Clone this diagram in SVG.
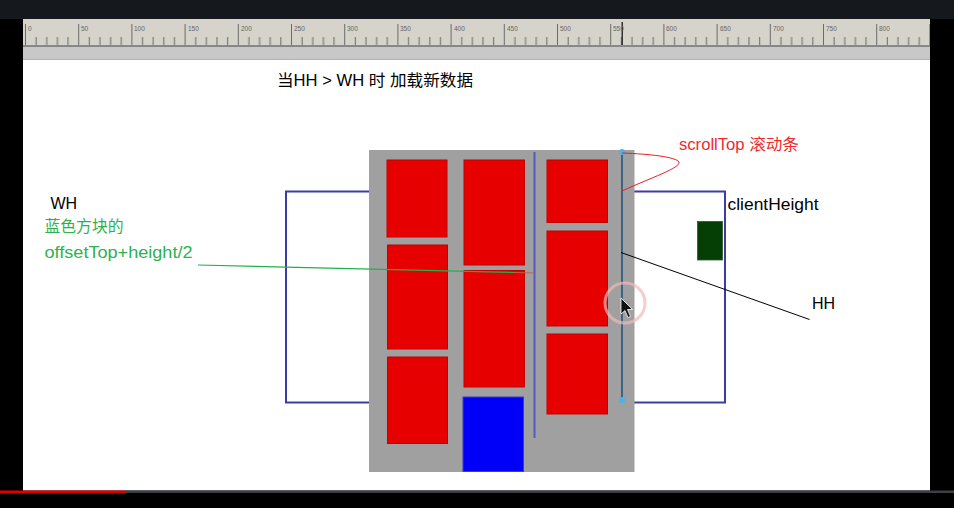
<svg xmlns="http://www.w3.org/2000/svg" width="954" height="508" viewBox="0 0 954 508">
<defs>
<style>
.t{font-family:"Liberation Sans","Noto Sans CJK SC",sans-serif;font-size:16px}
.blk{fill:#e60000;stroke:#c40000;stroke-width:1}
.rl{font-family:"Liberation Sans",sans-serif;font-size:6.5px;fill:#666}
</style>
<pattern id="rul" x="25" y="0" width="53.2" height="508" patternUnits="userSpaceOnUse">
<rect x="0" y="24" width="1" height="21" fill="#6a6a6a"/>
<rect x="10.64" y="37" width="1" height="8" fill="#6a6a6a"/>
<rect x="21.28" y="37" width="1" height="8" fill="#6a6a6a"/>
<rect x="31.92" y="37" width="1" height="8" fill="#6a6a6a"/>
<rect x="42.56" y="37" width="1" height="8" fill="#6a6a6a"/>
</pattern>
</defs>
<g id="frame">
<rect x="0" y="0" width="954" height="508" fill="#000"/>
<rect x="0" y="0" width="954" height="19" fill="#15191d"/>
<rect x="23" y="19" width="907" height="27" fill="#d6d3cb"/>
<rect x="23" y="19" width="907" height="27" fill="url(#rul)"/>
<rect x="23" y="45" width="907" height="1.5" fill="#8a8a8a"/>
<rect x="621.5" y="22" width="1.5" height="23" fill="#333"/>
<rect x="23" y="46.5" width="907" height="13" fill="#c8c8c8"/>
<rect x="23" y="59.5" width="907" height="431" fill="#fff"/>
<rect x="0" y="490.5" width="126" height="2.5" fill="#e00000"/>
<rect x="126" y="490.5" width="828" height="2.5" fill="#3b4046"/>
</g>
<g id="ruler-labels" class="rl">
<text x="28" y="31">0</text><text x="81" y="31">50</text><text x="134" y="31">100</text><text x="188" y="31">150</text><text x="241" y="31">200</text><text x="294" y="31">250</text><text x="347" y="31">300</text><text x="400" y="31">350</text><text x="454" y="31">400</text><text x="507" y="31">450</text><text x="560" y="31">500</text><text x="613" y="31">550</text><text x="666" y="31">600</text><text x="720" y="31">650</text><text x="773" y="31">700</text><text x="826" y="31">750</text><text x="879" y="31">800</text>
</g>
<g id="title"><text class="t" x="277" y="86" textLength="196" lengthAdjust="spacingAndGlyphs">当HH &gt; WH 时 加载新数据</text></g>
<g id="viewport"><rect x="286" y="191.5" width="439" height="211" fill="none" stroke="#3c3ca4" stroke-width="2"/></g>
<g id="content">
<rect x="369" y="150" width="265.5" height="322" fill="#a0a0a0"/>
<rect class="blk" x="387" y="160" width="60" height="77"/>
<rect class="blk" x="387.5" y="245" width="60" height="104"/>
<rect class="blk" x="387.5" y="357" width="60" height="86.5"/>
<rect class="blk" x="464" y="160" width="60.5" height="105"/>
<rect class="blk" x="464" y="270.5" width="60.5" height="116.5"/>
<rect x="463" y="397" width="60.5" height="74.5" fill="#0000f8" stroke="#3a3ad0" stroke-width="1"/>
<rect class="blk" x="547" y="160" width="60.5" height="62.5"/>
<rect class="blk" x="547" y="231" width="60.5" height="95"/>
<rect class="blk" x="547" y="334" width="60.5" height="80"/>
<line x1="534.5" y1="152" x2="534.5" y2="438" stroke="#5858c4" stroke-width="2"/>
</g>
<g id="scrollbar">
<line x1="622" y1="152" x2="622" y2="400" stroke="#3d6485" stroke-width="2"/>
<circle cx="622" cy="152" r="3" fill="#48b4e8"/>
<circle cx="622" cy="400" r="3" fill="#48b4e8"/>
</g>
<g id="green-box"><rect x="697.5" y="221.5" width="25" height="38.5" fill="#053f05" stroke="#2a5a2a" stroke-width="0.8"/></g>
<g id="connectors" fill="none">
<path d="M622,153 C650,154 676,157 679,162 C681,168 650,178 622,191" stroke="#ee1c24" stroke-width="1"/>
<line x1="621" y1="252.5" x2="809.5" y2="319.5" stroke="#000" stroke-width="1"/>
<line x1="198" y1="265" x2="514" y2="272.5" stroke="#22b04a" stroke-width="1.2"/>
<line x1="514" y1="272.5" x2="534" y2="273" stroke="#c85a50" stroke-width="1.2"/>
</g>
<g id="labels">
<text class="t" x="679" y="149.5" fill="#ee2a2f" textLength="120" lengthAdjust="spacingAndGlyphs">scrollTop 滚动条</text>
<text class="t" x="727.5" y="210" fill="#000" textLength="91" lengthAdjust="spacingAndGlyphs">clientHeight</text>
<text class="t" x="812" y="309" fill="#000">HH</text>
<text class="t" x="50.5" y="208.5" fill="#000">WH</text>
<text class="t" x="44.5" y="231.5" fill="#2db14f" textLength="79" lengthAdjust="spacingAndGlyphs">蓝色方块的</text>
<text class="t" x="44.5" y="257.5" fill="#2db14f" textLength="148" lengthAdjust="spacingAndGlyphs">offsetTop+height/2</text>
</g>
<g id="cursor">
<circle cx="625" cy="303" r="20" fill="none" stroke="#f0b8b8" stroke-width="3" opacity="0.7"/>
<polygon points="621,298 621,314 625,310.5 628,317.5 630.5,316.5 627.5,309.5 632.5,309.5" fill="#111" stroke="#fff" stroke-width="0.8"/>
</g>
</svg>
